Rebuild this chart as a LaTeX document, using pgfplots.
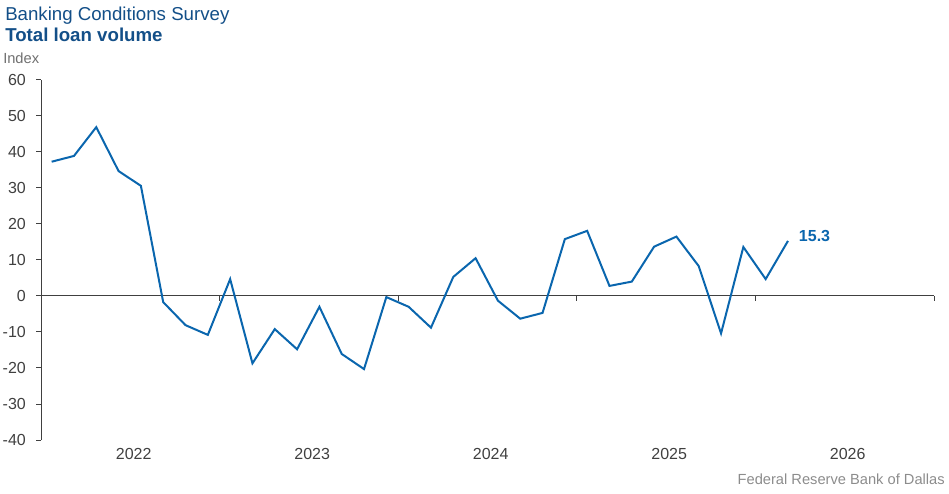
\documentclass[border=0pt]{standalone}
\usepackage{pgfplots}
\pgfplotsset{compat=1.18}
\usepackage{fontspec}
\setmainfont{Liberation Sans}
\definecolor{titleblue}{HTML}{134F88}
\definecolor{lineblue}{HTML}{0A66AE}
\definecolor{axisgray}{HTML}{404040}
\definecolor{labelgray}{HTML}{404040}
\definecolor{srcgray}{HTML}{8C8C8C}
\begin{document}
\begin{tikzpicture}
\useasboundingbox (0,0) rectangle (711.75pt,369.75pt);
\begin{axis}[
  at={(31.1pt,39.75pt)}, anchor=south west,
  scale only axis, width=669.4pt, height=270pt,
  xmin=0, xmax=5, ymin=-40, ymax=60,
  axis y line*=left, axis x line*=bottom,
  x axis line style={draw=none},
  y axis line style={draw=axisgray, line width=0.75pt},
  ytick={-40,-30,...,60},
  ytick style={draw=axisgray, line width=0.75pt},
  tick align=outside, major tick length=3.75pt,
  xtick={0.5,1.5,2.5,3.5,4.5},
  xticklabels={2022,2023,2024,2025,2026},
  xtick style={draw=none},
  /pgf/number format/assume math mode=true,
  ticklabel style={font=\fontsize{12}{14}\selectfont, text=labelgray},
  yticklabel style={inner sep=0pt, anchor=east, xshift=-7.75pt},
  xticklabel style={inner sep=0pt, anchor=base, yshift=-10.5pt, xshift=2.25pt},
  clip=false,
]
\draw[axisgray, line width=0.75pt] (axis cs:0,0) -- (axis cs:5,0);
\pgfplotsinvokeforeach{1,2,3,4,5}{
  \draw[axisgray, line width=0.75pt] (axis cs:#1,0) -- ([yshift=-3.75pt]axis cs:#1,0);
}
\addplot[lineblue, line width=1.5pt, mark=none] coordinates {
(0.057,37.3) (0.182,38.9) (0.307,46.9) (0.432,34.7) (0.557,30.6)
(0.682,-1.7) (0.807,-8.1) (0.932,-10.8) (1.057,4.7) (1.182,-18.7)
(1.307,-9.2) (1.432,-14.8) (1.557,-3.0) (1.682,-16.1) (1.807,-20.3)
(1.932,-0.3) (2.057,-3.0) (2.182,-8.8) (2.307,5.3) (2.432,10.5)
(2.557,-1.3) (2.682,-6.3) (2.807,-4.7) (2.932,15.8) (3.057,18.1)
(3.182,2.8) (3.307,4.0) (3.432,13.7) (3.557,16.5) (3.682,8.3)
(3.807,-10.4) (3.932,13.6) (4.057,4.7) (4.182,15.3)
} node[pos=1, anchor=west, inner sep=0pt, xshift=7.5pt, yshift=4pt, text=lineblue, font=\fontsize{12}{14}\selectfont\bfseries] {15.3};
\end{axis}
\node[anchor=base west, inner sep=0pt, text=titleblue, font=\fontsize{14}{16}\selectfont] at (3.75pt,354.25pt) {Banking Conditions Survey};
\node[anchor=base west, inner sep=0pt, text=titleblue, font=\fontsize{14}{16}\selectfont\bfseries] at (3.75pt,338.5pt) {Total loan volume};
\node[anchor=base west, inner sep=0pt, text=srcgray!80!black, font=\fontsize{11}{13}\selectfont] at (2.25pt,322.3pt) {Index};
\node[anchor=base east, inner sep=0pt, text=srcgray, font=\fontsize{11}{13}\selectfont] at (708.75pt,6.75pt) {Federal Reserve Bank of Dallas};
\end{tikzpicture}
\end{document}
